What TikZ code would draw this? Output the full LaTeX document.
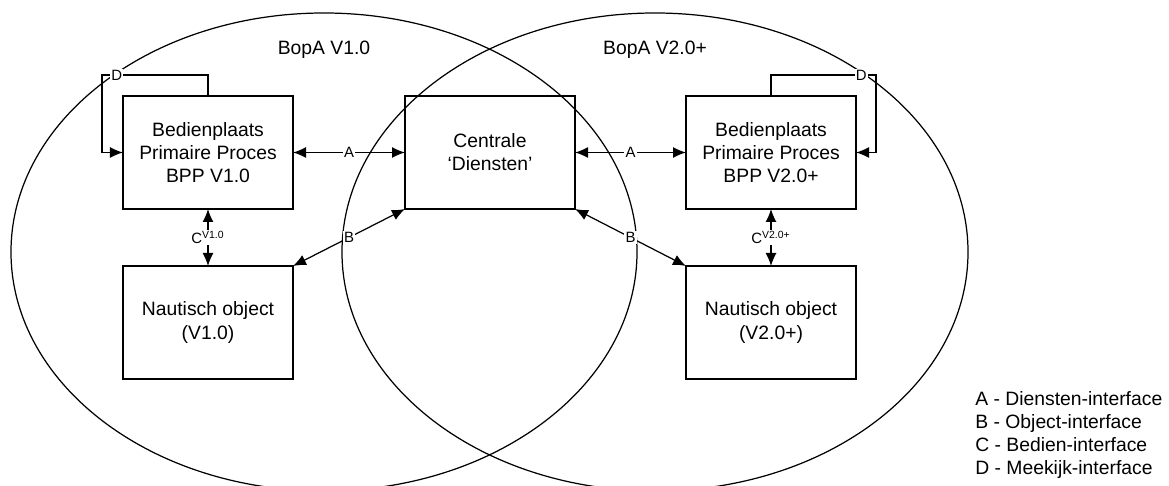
\documentclass[tikz,border=0pt]{standalone}
\usepackage{fontspec}
\setmainfont{Liberation Sans}
\usetikzlibrary{positioning, arrows.meta}

\tikzset{
  dienst/.style={draw, line width=0.7pt, minimum width=3.4cm, minimum height=2.26cm,
    align=center, outer sep=0pt, font=\fontsize{11}{13.1}\selectfont},
  link/.style={line width=0.7pt, {Latex[length=2.6mm,width=2.2mm]}-{Latex[length=2.6mm,width=2.2mm]}},
  meekijk/.style={line width=0.7pt, -{Latex[length=2.6mm,width=2.2mm]}},
  tag/.style={fill=white, inner sep=0.6pt, font=\fontsize{8.5}{9}\selectfont},
}

\begin{document}
\begin{tikzpicture}[x=0.2mm, y=-0.2mm]
      \useasboundingbox (0,0) rectangle (1169,486);

      % de twee BopA-domeinen
      \begin{scope}
        \clip (0,0) rectangle (1169,486);
        \draw[line width=0.7pt] (324,252) ellipse [x radius=6.26cm, y radius=4.78cm];
        \draw[line width=0.7pt] (655,252) ellipse [x radius=6.26cm, y radius=4.78cm];
      \end{scope}
      \node[font=\fontsize{11}{13}\selectfont] (titelA) at (324,50) {BopA V1.0};
      \node[font=\fontsize{11}{13}\selectfont] (titelB) at (655,50) {BopA V2.0+};

      \node[dienst] (bppA) at (208,152.5) {Bedienplaats\\Primaire Proces\\BPP V1.0};
      \node[dienst, right=2.24cm of bppA] (centrale) {Centrale\\‘Diensten’};
      \node[dienst, right=2.22cm of centrale] (bppB) {Bedienplaats\\Primaire Proces\\BPP V2.0+};
      \node[dienst, below=1.14cm of bppA] (objA) {Nautisch object\\(V1.0)};
      \node[dienst, below=1.14cm of bppB] (objB) {Nautisch object\\(V2.0+)};

      \draw[link] (bppA.east) -- (centrale.west) node[tag, midway] {A};
      \draw[link] (centrale.east) -- (bppB.west) node[tag, midway] {A};
      \draw[link] (centrale.south west) -- (objA.north east) node[tag, midway] {B};
      \draw[link] (centrale.south east) -- (objB.north west) node[tag, midway] {B};
      \draw[link] (bppA.south) -- (objA.north) node[tag, midway] {C\textsuperscript{V1.0}};
      \draw[link] (bppB.south) -- (objB.north) node[tag, midway] {C\textsuperscript{V2.0+}};

      \coordinate (hoekA) at (102,75);
      \coordinate (hoekB) at (876,75);
      \draw[meekijk] (bppA.north) |- node[tag, pos=0.93] {D} (hoekA) |- (bppA.west);
      \draw[meekijk] (bppB.north) |- node[tag, pos=0.93] {D} (hoekB) |- (bppB.east);

      \node[anchor=north west, align=left, inner sep=0pt, font=\fontsize{11}{13.1}\selectfont]
        (legenda) at (975,391) {A - Diensten-interface\\B - Object-interface\\C - Bedien-interface\\D - Meekijk-interface};
\end{tikzpicture}
\end{document}
